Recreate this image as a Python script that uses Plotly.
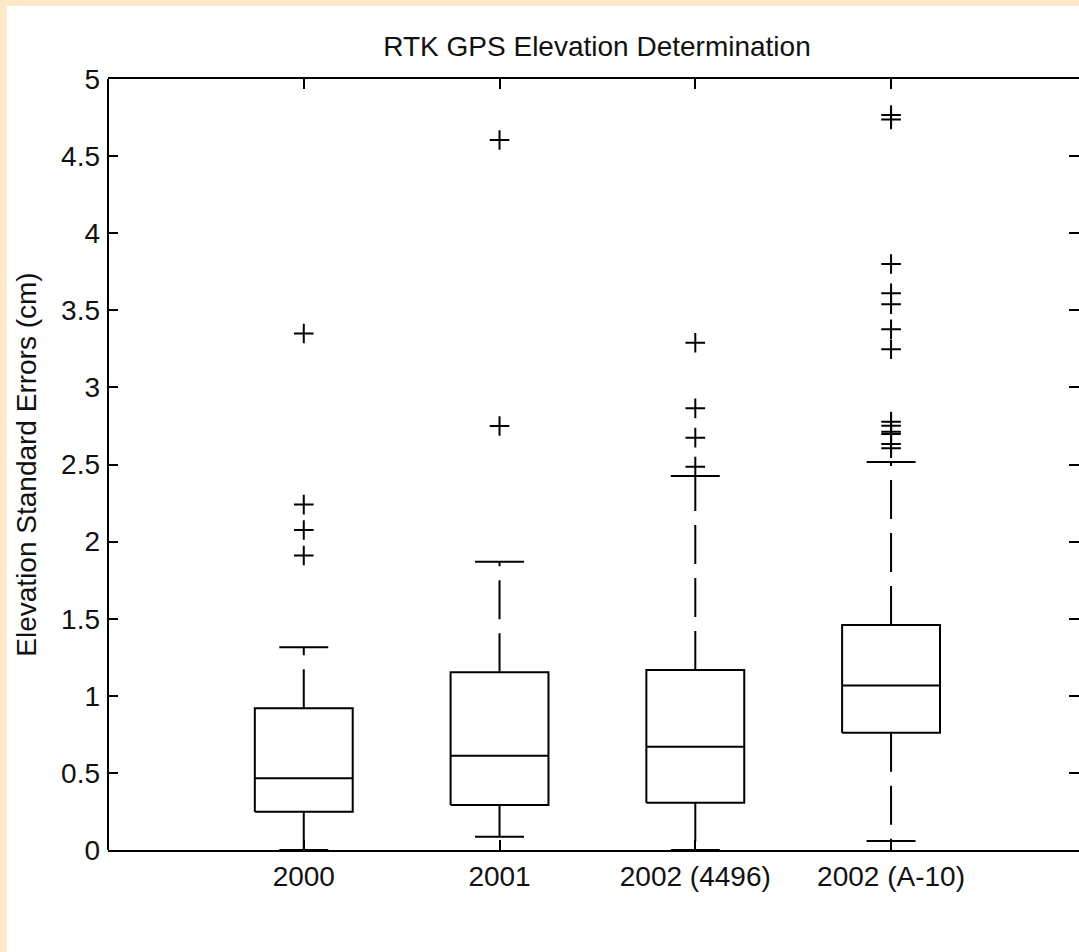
import plotly.graph_objects as go

categories = ["2000", "2001", "2002 (4496)", "2002 (A-10)"]
q1 = [0.248, 0.292, 0.307, 0.761]
median = [0.465, 0.612, 0.670, 1.066]
q3 = [0.919, 1.152, 1.167, 1.459]
lower_whisker = [0.0, 0.086, 0.0, 0.058]
upper_whisker = [1.315, 1.870, 2.425, 2.516]
outliers = [
    [3.35, 2.24, 2.075, 1.91],
    [4.604, 2.75],
    [3.29, 2.864, 2.674, 2.486],
    [4.766, 4.738, 3.80, 3.61, 3.54, 3.377, 3.247, 2.778, 2.752, 2.713, 2.698, 2.633, 2.605],
]
y_ticks = [0, 0.5, 1, 1.5, 2, 2.5, 3, 3.5, 4, 4.5, 5]

BOX_HALF = 0.25
CAP_HALF = 0.125
LW = 2
BLACK = "#000000"
FONT = "Liberation Sans, Arial, sans-serif"

fig = go.Figure()

positions = list(range(1, len(categories) + 1))

# boxes + medians + caps (solid)
bx, by = [], []
for p, a, m, b, lo, hi in zip(positions, q1, median, q3, lower_whisker, upper_whisker):
    bx += [p - BOX_HALF, p + BOX_HALF, p + BOX_HALF, p - BOX_HALF, p - BOX_HALF, None]
    by += [a, a, b, b, a, None]
    bx += [p - BOX_HALF, p + BOX_HALF, None]
    by += [m, m, None]
    bx += [p - CAP_HALF, p + CAP_HALF, None, p - CAP_HALF, p + CAP_HALF, None]
    by += [hi, hi, None, lo, lo, None]
fig.add_trace(go.Scatter(x=bx, y=by, mode="lines", line=dict(color=BLACK, width=LW),
                         hoverinfo="skip", showlegend=False))

# dashed whiskers, drawn outward from the box
for p, a, b, lo, hi in zip(positions, q1, q3, lower_whisker, upper_whisker):
    for y0, y1 in ((b, hi), (a, lo)):
        fig.add_trace(go.Scatter(x=[p, p], y=[y0, y1], mode="lines",
                                 line=dict(color=BLACK, width=LW, dash="39px,14px"),
                                 hoverinfo="skip", showlegend=False))

# outliers
for p, vals in zip(positions, outliers):
    fig.add_trace(go.Scatter(x=[p] * len(vals), y=vals, mode="markers",
                             marker=dict(symbol="cross-thin", size=14, color=BLACK,
                                         line=dict(color=BLACK, width=2)),
                             hoverinfo="skip", showlegend=False))

W, H = 1079, 952
ML, MT, MB = 108, 79, 102
plot_w = W - ML
plot_h = H - MT - MB

fig.update_layout(
    width=W, height=H,
    margin=dict(l=ML, r=0, t=MT, b=MB, pad=0),
    paper_bgcolor="white", plot_bgcolor="white",
    font=dict(family=FONT, size=28, color="#111111"),
    title=dict(text="RTK GPS Elevation Determination", x=597 / W, xref="container",
               xanchor="center", y=1 - 46 / H, yref="container", yanchor="middle",
               font=dict(family=FONT, size=28, color="#111111")),
    xaxis=dict(range=[0, 4.96], tickmode="array", tickvals=positions, ticktext=categories,
               ticks="inside", ticklen=10, tickwidth=1.5, tickcolor=BLACK,
               showline=True, linecolor=BLACK, linewidth=2, mirror="ticks",
               showgrid=False, zeroline=True, zerolinecolor=BLACK, zerolinewidth=2,
               tickfont=dict(size=28, color="#111111"), fixedrange=True),
    yaxis=dict(range=[0, 5], tickmode="array", tickvals=y_ticks,
               ticktext=[("%g" % v) for v in y_ticks],
               ticks="inside", ticklen=10, tickwidth=1.5, tickcolor=BLACK,
               showline=False, mirror="ticks", showgrid=False, zeroline=False,
               ticklabelstandoff=7,
               title=dict(text="Elevation Standard Errors (cm)", standoff=16,
                          font=dict(size=28, color="#111111")),
               tickfont=dict(size=28, color="#111111"), fixedrange=True),
    shapes=[
        dict(type="rect", xref="paper", yref="paper",
             x0=-ML / plot_w, x1=-(ML - 7) / plot_w, y0=-MB / plot_h, y1=(H - MB) / plot_h,
             fillcolor="#FFE8C8", line=dict(width=0), layer="below"),
        dict(type="rect", xref="paper", yref="paper",
             x0=-ML / plot_w, x1=1.0, y0=(H - MB - 6) / plot_h, y1=(H - MB) / plot_h,
             fillcolor="#FFE8C8", line=dict(width=0), layer="below"),
    ],
)

fig.write_html("out.html", config={"displayModeBar": False},
               post_script="document.body.style.margin='0';document.body.style.overflow='hidden';")
